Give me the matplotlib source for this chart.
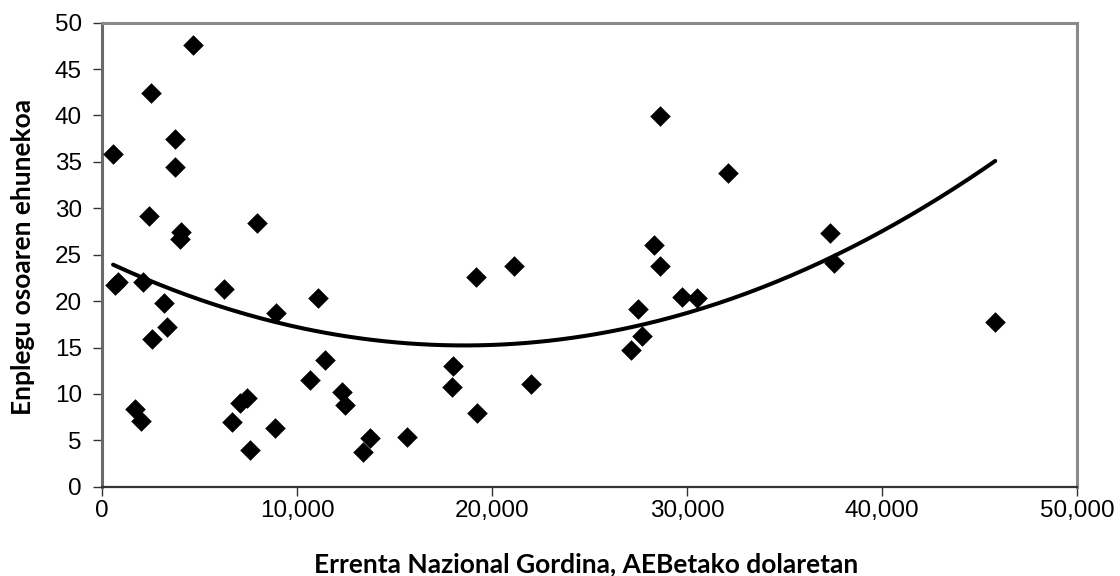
import numpy as np
import matplotlib.pyplot as plt
from matplotlib.ticker import FuncFormatter

# Gross national income (USD) vs. employment share (%)
gni = [4674, 2486, 3718, 565, 3750, 2414, 4058, 3990, 7946, 668,
       806, 2106, 6266, 3169, 3339, 2537, 8922, 11063, 19193, 11438,
       10683, 17976, 17925, 12296, 12450, 19209, 1715, 2024, 7072, 7447,
       6677, 8885, 7601, 13765, 13405, 15650, 28634, 32096, 37350, 37530,
       28316, 28634, 21135, 29759, 30494, 27489, 27668, 27124, 45808, 22008]
share = [47.6, 42.4, 37.5, 35.8, 34.4, 29.2, 27.5, 26.7, 28.4, 21.7,
         22.1, 22.1, 21.3, 19.8, 17.2, 15.9, 18.7, 20.3, 22.6, 13.7,
         11.5, 13.0, 10.7, 10.2, 8.8, 7.9, 8.4, 7.1, 9.0, 9.6,
         7.0, 6.3, 4.0, 5.3, 3.7, 5.4, 39.9, 33.8, 27.3, 24.1,
         26.0, 23.8, 23.8, 20.4, 20.3, 19.1, 16.2, 14.7, 17.8, 11.1]

x_label = "Errenta Nazional Gordina, AEBetako dolaretan"
y_label = "Enplegu osoaren ehunekoa"

gni = np.array(gni)
share = np.array(share)

fig = plt.figure(figsize=(11.2, 5.76), dpi=100)
ax = fig.add_axes([0.0911, 0.155, 0.8705, 0.8056])

ax.scatter(gni, share, marker='D', s=110, color='black', zorder=3, linewidths=0)

# second order trend line
coef = np.polyfit(gni, share, 2)
xs = np.linspace(gni.min(), gni.max(), 300)
ax.plot(xs, np.polyval(coef, xs), color='black', lw=2.9, zorder=2,
        solid_capstyle='round')

ax.set_xlim(0, 50000)
ax.set_ylim(0, 50)
ax.set_xticks(np.arange(0, 50001, 10000))
ax.set_yticks(np.arange(0, 51, 5))
ax.xaxis.set_major_formatter(FuncFormatter(lambda v, p: f"{int(v):,}"))

ax.spines['left'].set_color('#6a6a6a')
ax.spines['left'].set_linewidth(2.2)
ax.spines['bottom'].set_color('#333333')
ax.spines['bottom'].set_linewidth(1.6)
for s in ['top', 'right']:
    ax.spines[s].set_color('#8a8a8a')
    ax.spines[s].set_linewidth(2.2)

ax.tick_params(axis='both', direction='out', length=6.5, width=1.0, color='#333333',
               labelsize=17.5, labelcolor='black')
ax.tick_params(axis='x', pad=3)
ax.tick_params(axis='y', pad=8)
for lab in ax.get_xticklabels() + ax.get_yticklabels():
    lab.set_fontfamily('Liberation Sans')

ax.set_xlabel(x_label, fontfamily='Lato', fontweight='bold', fontsize=19)
ax.set_ylabel(y_label, fontfamily='Lato', fontweight='bold', fontsize=19)
ax.xaxis.set_label_coords(0.497, -0.141)
ax.yaxis.set_label_coords(-0.069, 0.495)

fig.savefig('out.png', dpi=100)
